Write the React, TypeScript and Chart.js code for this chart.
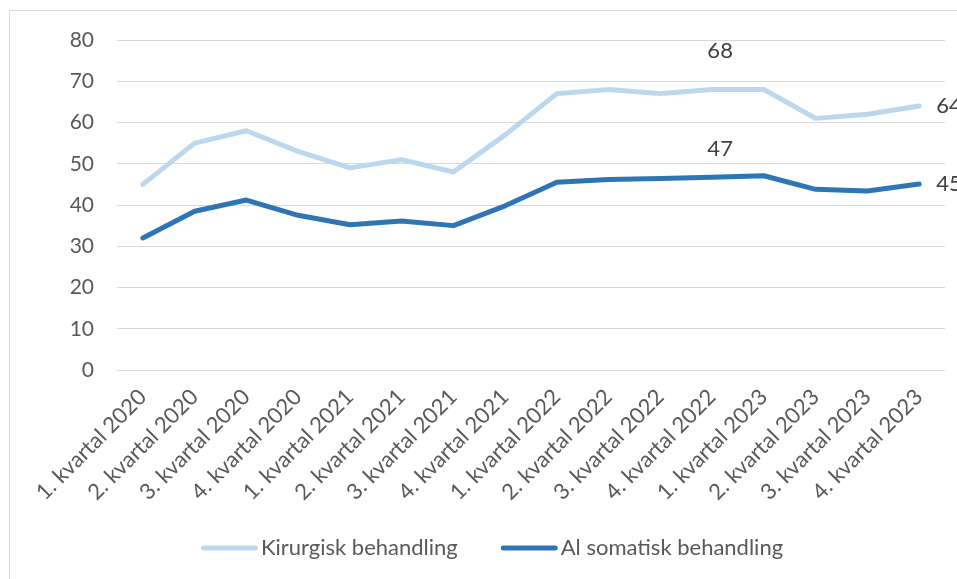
import React, { useEffect, useRef } from "react";
import { Chart, registerables } from "chart.js";

Chart.register(...registerables);

const categories = [
  "1. kvartal 2020", "2. kvartal 2020", "3. kvartal 2020", "4. kvartal 2020",
  "1. kvartal 2021", "2. kvartal 2021", "3. kvartal 2021", "4. kvartal 2021",
  "1. kvartal 2022", "2. kvartal 2022", "3. kvartal 2022", "4. kvartal 2022",
  "1. kvartal 2023", "2. kvartal 2023", "3. kvartal 2023", "4. kvartal 2023",
];
const kirurgisk = [45, 55, 58, 53, 49, 51, 48, 57, 67, 68, 67, 68, 68, 61, 62, 64];
const alSomatisk = [32, 38.5, 41.2, 37.5, 35.2, 36.1, 35, 39.8, 45.5, 46.2, 46.4, 46.7, 47.1, 43.8, 43.4, 45.1];
const yTicks = { min: 0, max: 80, step: 10 };
const seriesNames = ["Kirurgisk behandling", "Al somatisk behandling"];

const FONT = "Lato, 'Open Sans', sans-serif";
const TEXT = "#595959";
const GRID = "#d9d9d9";

const framePlugin = {
  id: "frame",
  beforeDraw(chart: any) {
    const ctx = chart.ctx;
    ctx.save();
    ctx.strokeStyle = GRID;
    ctx.lineWidth = 1;
    ctx.beginPath();
    ctx.moveTo(9.5, chart.height);
    ctx.lineTo(9.5, 10.5);
    ctx.lineTo(chart.width, 10.5);
    ctx.stroke();
    ctx.restore();
  },
};

const dataLabelPlugin = {
  id: "dataLabels",
  afterDatasetsDraw(chart: any) {
    const items = [
      { ds: 0, idx: 11, dx: 8, dy: -39, align: "center" },
      { ds: 1, idx: 11, dx: 8, dy: -28, align: "center" },
      { ds: 0, idx: 15, dx: 17, dy: 0, align: "left" },
      { ds: 1, idx: 15, dx: 17, dy: 0, align: "left" },
    ];
    const ctx = chart.ctx;
    ctx.save();
    ctx.font = `22px ${FONT}`;
    ctx.fillStyle = "#404040";
    ctx.textBaseline = "middle";
    for (const it of items) {
      const pt = chart.getDatasetMeta(it.ds).data[it.idx];
      const v = chart.data.datasets[it.ds].data[it.idx] as number;
      ctx.textAlign = it.align;
      ctx.fillText(String(Math.round(v)), pt.x + it.dx, pt.y + it.dy);
    }
    ctx.restore();
  },
};

const legendPlugin = {
  id: "customLegend",
  afterDraw(chart: any) {
    const ctx = chart.ctx;
    ctx.save();
    ctx.font = `22px ${FONT}`;
    const lineW = 57;
    const gapText = 3;
    const gapItem = 43;
    const ds = chart.data.datasets;
    const widths = ds.map((d: any) => lineW + gapText + ctx.measureText(d.label).width);
    const total = widths.reduce((a: number, b: number) => a + b, 0) + gapItem * (ds.length - 1);
    let x = 492 - total / 2;
    const y = 548;
    ds.forEach((d: any, i: number) => {
      ctx.strokeStyle = d.borderColor;
      ctx.lineWidth = 5;
      ctx.lineCap = "round";
      ctx.beginPath();
      ctx.moveTo(x + 2.5, y);
      ctx.lineTo(x + lineW - 2.5, y);
      ctx.stroke();
      ctx.fillStyle = TEXT;
      ctx.textAlign = "left";
      ctx.textBaseline = "middle";
      ctx.fillText(d.label, x + lineW + gapText, y);
      x += widths[i] + gapItem;
    });
    ctx.restore();
  },
};

export default function App() {
  const ref = useRef<HTMLCanvasElement>(null);
  useEffect(() => {
    if (!ref.current) return;
    const chart = new Chart(ref.current, {
      type: "line",
      data: {
        labels: categories,
        datasets: [
          {
            label: seriesNames[0],
            data: kirurgisk,
            borderColor: "#bdd7ee",
            backgroundColor: "#bdd7ee",
            borderWidth: 5,
            pointRadius: 0,
            borderCapStyle: "round",
            borderJoinStyle: "round",
            tension: 0,
          },
          {
            label: seriesNames[1],
            data: alSomatisk,
            borderColor: "#2e75b6",
            backgroundColor: "#2e75b6",
            borderWidth: 5,
            pointRadius: 0,
            borderCapStyle: "round",
            borderJoinStyle: "round",
            tension: 0,
          },
        ],
      },
      options: {
        responsive: false,
        animation: false,
        layout: { padding: { top: 40, right: 12, left: 0, bottom: 69 } },
        plugins: {
          legend: { display: false },
          tooltip: { enabled: false },
        },
        scales: {
          x: {
            offset: true,
            grid: { display: false, drawTicks: false },
            border: { display: false },
            ticks: {
              color: TEXT,
              font: { family: FONT, size: 22 },
              maxRotation: 45,
              minRotation: 45,
              padding: 14,
              autoSkip: false,
            },
            afterFit(scale: any) {
              scale.height = 140;
            },
          },
          y: {
            min: yTicks.min,
            max: yTicks.max,
            grid: { color: GRID, lineWidth: 1, drawTicks: false },
            border: { display: false },
            ticks: {
              stepSize: yTicks.step,
              color: TEXT,
              font: { family: FONT, size: 21 },
              padding: 23,
            },
            afterFit(scale: any) {
              scale.width = 117;
            },
          },
        },
      },
      plugins: [framePlugin, dataLabelPlugin, legendPlugin],
    });
    return () => chart.destroy();
  }, []);
  return (
    <div style={{ position: "absolute", left: 0, top: 0, width: 957, height: 579, overflow: "hidden" }}>
      <canvas ref={ref} width={957} height={579} style={{ display: "block" }} />
    </div>
  );
}
